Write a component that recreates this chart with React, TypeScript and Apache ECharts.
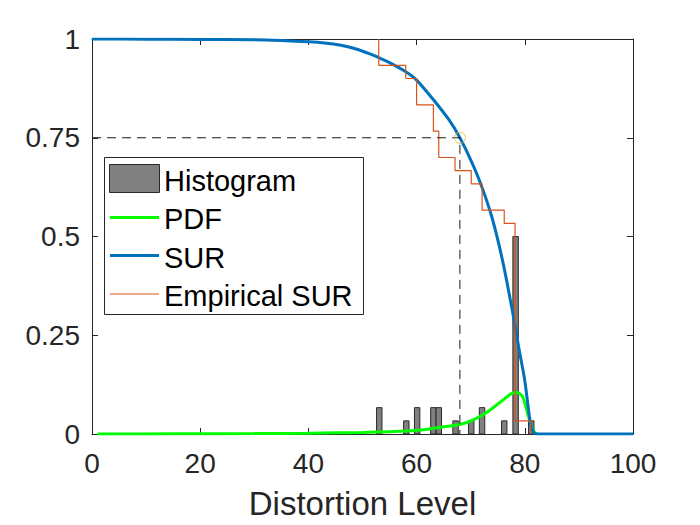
import React, { useEffect, useRef } from "react";
import * as echarts from "echarts";

// ---- data ----
const xTicksMax = 100;
const histCenters = [53.1, 58.1, 60.1, 63.1, 64.1, 67.2, 70.1, 72.1, 76.2, 78.3, 81.2];
const histValues = [0.0667, 0.0333, 0.0667, 0.0667, 0.0667, 0.0333, 0.0333, 0.0667, 0.0333, 0.5, 0.0333];
const binWidth = 1;

const pdfX = [1, 10, 20, 30, 40, 45, 50, 55, 59, 62, 65, 68, 70.5, 73, 75.5, 77.4, 78.3, 79.5, 80.3, 81, 81.7, 82.3];
const pdfY = [0, 0.0003, 0.0006, 0.001, 0.002, 0.003, 0.004, 0.006, 0.008, 0.012, 0.018, 0.024, 0.036, 0.055, 0.081, 0.101, 0.106, 0.097, 0.063, 0.03, 0.006, 0];

const surX = [0, 10, 20, 30, 35, 40, 43, 46, 49, 51, 53, 55, 58, 60, 63, 66, 68, 70, 72, 74, 76, 78, 79, 80, 81, 81.5, 82, 100];
const surY = [1, 0.9995, 0.999, 0.998, 0.996, 0.993, 0.99, 0.984, 0.974, 0.964, 0.953, 0.94, 0.917, 0.896, 0.848, 0.795, 0.75, 0.694, 0.628, 0.545, 0.432, 0.29, 0.21, 0.135, 0.03, 0.008, 0, 0];

const empX = [53, 53, 58, 60, 63.1, 64.1, 67.1, 70.1, 72.1, 76.2, 78.2, 81.1];
const empY = [1, 0.9333, 0.9, 0.8333, 0.7667, 0.7, 0.6667, 0.6333, 0.5667, 0.5333, 0.0333, 0];

const refX = [0, 68, 68];
const refY = [0.75, 0.75, 0];
const markerPoint = [68, 0.75];

const legendLabels = ["Histogram", "PDF", "SUR", "Empirical SUR"];

const FONT = "'Liberation Sans', Arial, Helvetica, sans-serif";
const AX = "#262626";

function zip(xs: number[], ys: number[]) {
  return xs.map((x, i) => [x, ys[i]]);
}

export default function App() {
  const ref = useRef<HTMLDivElement>(null);
  useEffect(() => {
    document.body.style.margin = "0";
    const chart = echarts.init(ref.current!, null, { renderer: "svg" });
    const axisCommon = {
      type: "value",
      axisLine: { show: true, onZero: false, lineStyle: { color: AX, width: 1 } },
      axisTick: { show: true, inside: true, length: 6, lineStyle: { color: AX, width: 1 } },
      splitLine: { show: false },
    };
    const option: any = {
      animation: false,
      backgroundColor: "#ffffff",
      grid: { left: 92, right: 67, top: 39, bottom: 91, containLabel: false },
      xAxis: [
        {
          ...axisCommon,
          min: 0,
          max: xTicksMax,
          interval: 20,
          position: "bottom",
          axisLabel: { color: AX, fontSize: 28, fontFamily: FONT, margin: 15 },
          name: "Distortion Level",
          nameLocation: "middle",
          nameGap: 53,
          nameTextStyle: { color: AX, fontSize: 33, fontFamily: FONT },
        },
        {
          ...axisCommon,
          min: 0,
          max: xTicksMax,
          interval: 20,
          position: "top",
          axisLabel: { show: false },
        },
      ],
      yAxis: [
        {
          ...axisCommon,
          min: 0,
          max: 1,
          interval: 0.25,
          position: "left",
          axisLabel: { color: AX, fontSize: 28, fontFamily: FONT, margin: 12 },
        },
        {
          ...axisCommon,
          min: 0,
          max: 1,
          interval: 0.25,
          position: "right",
          axisLabel: { show: false },
        },
      ],
      series: [
        {
          type: "custom",
          name: legendLabels[0],
          xAxisIndex: 0,
          yAxisIndex: 0,
          data: zip(histCenters, histValues),
          renderItem: (params: any, api: any) => {
            const x = api.value(0);
            const h = api.value(1);
            const p0 = api.coord([x - binWidth / 2, h]);
            const p1 = api.coord([x + binWidth / 2, 0]);
            return {
              type: "rect",
              shape: { x: p0[0], y: p0[1], width: p1[0] - p0[0], height: p1[1] - p0[1] },
              style: { fill: "#808080", stroke: "#2a2a2a", lineWidth: 1 },
            };
          },
          z: 1,
        },
        {
          type: "line",
          name: legendLabels[1],
          data: zip(pdfX, pdfY),
          showSymbol: false,
          smooth: 0.25,
          lineStyle: { color: "#00ff00", width: 3 },
          z: 2,
        },
        {
          type: "line",
          name: legendLabels[2],
          data: zip(surX, surY),
          showSymbol: false,
          smooth: 0.25,
          lineStyle: { color: "#0072bd", width: 3 },
          z: 3,
        },
        {
          type: "line",
          name: legendLabels[3],
          data: zip(empX, empY),
          showSymbol: false,
          step: "end",
          lineStyle: { color: "#d95319", width: 1.2 },
          z: 4,
        },
        {
          type: "line",
          data: zip(refX, refY),
          showSymbol: false,
          lineStyle: { color: "#1a1a1a", width: 1, type: [9, 6] },
          z: 5,
        },
        {
          type: "scatter",
          data: [markerPoint],
          symbol: "circle",
          symbolSize: 11,
          itemStyle: { color: "rgba(0,0,0,0)", borderColor: "#edb120", borderWidth: 1 },
          z: 6,
        },
      ],
      graphic: [
        {
          type: "group",
          z: 100,
          children: [
            { type: "rect", shape: { x: 104.5, y: 157.5, width: 259, height: 157 }, style: { fill: "#ffffff", stroke: AX, lineWidth: 1 } },
            { type: "rect", shape: { x: 109.5, y: 164.5, width: 50, height: 28 }, style: { fill: "#808080", stroke: "#2a2a2a", lineWidth: 1 } },
            { type: "line", shape: { x1: 110, y1: 217.5, x2: 159, y2: 217.5 }, style: { stroke: "#00ff00", lineWidth: 3 } },
            { type: "line", shape: { x1: 110, y1: 255.5, x2: 159, y2: 255.5 }, style: { stroke: "#0072bd", lineWidth: 3 } },
            { type: "line", shape: { x1: 110, y1: 294, x2: 159, y2: 294 }, style: { stroke: "#d95319", lineWidth: 1 } },
            { type: "text", x: 164, y: 180.5, style: { text: legendLabels[0], fill: "#000", font: `29px ${FONT}`, verticalAlign: "middle" } },
            { type: "text", x: 164, y: 219, style: { text: legendLabels[1], fill: "#000", font: `29px ${FONT}`, verticalAlign: "middle" } },
            { type: "text", x: 164, y: 257.5, style: { text: legendLabels[2], fill: "#000", font: `29px ${FONT}`, verticalAlign: "middle" } },
            { type: "text", x: 164, y: 296, style: { text: legendLabels[3], fill: "#000", font: `29px ${FONT}`, verticalAlign: "middle" } },
          ],
        },
      ],
    };
    chart.setOption(option);
    return () => chart.dispose();
  }, []);
  return <div ref={ref} style={{ width: 700, height: 525 }} />;
}
